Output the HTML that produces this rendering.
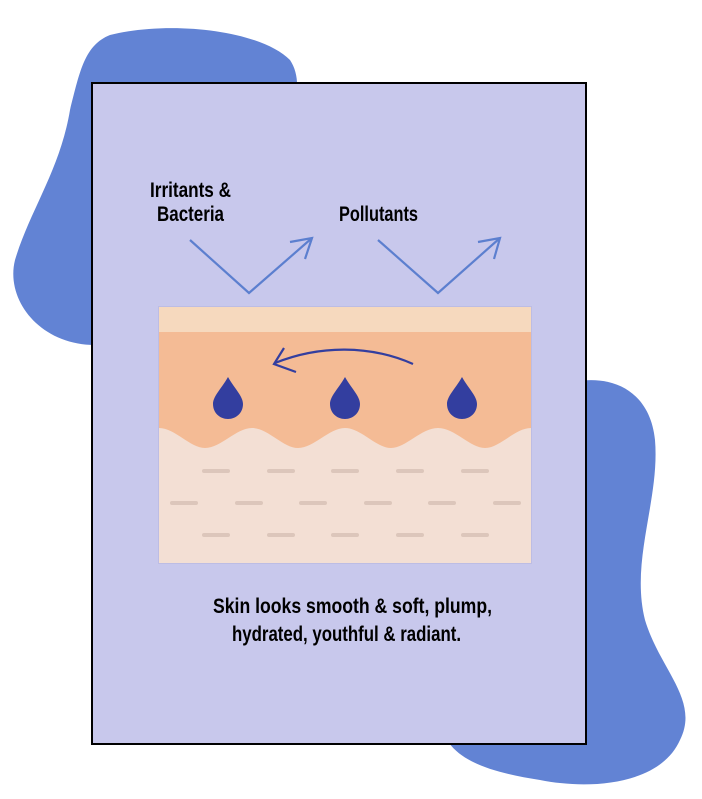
<!DOCTYPE html>
<html><head><style>
body{margin:0;background:#fff;width:702px;height:799px;overflow:hidden}
svg{display:block}
text{font-family:"Liberation Sans Narrow","Liberation Sans",sans-serif;font-weight:bold;fill:#000}
</style></head><body>
<svg width="702" height="799" viewBox="0 0 702 799">
<path d="M110,35 C170,20 260,30 290,60 C310,90 285,140 250,200 C220,260 180,340 95,345 C40,345 5,300 15,260 C30,210 60,170 70,110 C80,70 85,45 110,35 Z" fill="#6283d4"/>
<path d="M560,385 C610,370 650,390 655,440 C660,500 630,560 645,620 C660,670 700,700 680,740 C660,785 590,790 540,780 C490,772 445,760 440,720 C430,660 470,610 480,540 C490,460 510,400 560,385 Z" fill="#6283d4"/>
<rect x="92" y="83" width="494" height="661" fill="#c8c8ec" stroke="#000" stroke-width="2"/>
<text x="150" y="197" font-size="21" textLength="81" lengthAdjust="spacingAndGlyphs">Irritants &amp;</text>
<text x="157" y="221" font-size="21" textLength="67" lengthAdjust="spacingAndGlyphs">Bacteria</text>
<text x="339" y="221" font-size="21" textLength="79" lengthAdjust="spacingAndGlyphs">Pollutants</text>
<g fill="none" stroke="#5c7fcf" stroke-width="2.2">
<polyline points="190,240 249,293 312,238"/><polyline points="290,242 312,238 305,259"/>
<polyline points="378,240 438,293 500,238"/><polyline points="478,242 500,238 494,259"/>
</g>
<rect x="158" y="306" width="374" height="258" fill="#bdbde4"/>
<rect x="159" y="307" width="372" height="256" fill="#f3dfd4"/>
<rect x="159" y="307" width="372" height="26" fill="#f6d9be"/>
<path d="M159,332 H531 V428 C515,428 500,448 485,448 C470,448 455,428 438,428 C421,428 406,448 391,448 C376,448 361,428 345,428 C329,428 314,448 298,448 C283,448 268,428 252,428 C236,428 221,448 205,448 C190,448 175,428 159,428 Z" fill="#f4bb95"/>
<g fill="none" stroke="#333e9f" stroke-width="2.2">
<path d="M413,364 C370,345 320,345 275,363"/><polyline points="284,348 274,364 296,372"/>
</g>
<g fill="#333e9f">
<path d="M228,377 C222,388 213,396 213,404 C213,413 220,419 228,419 C236,419 243,413 243,404 C243,396 234,388 228,377 Z"/>
<path d="M345,377 C339,388 330,396 330,404 C330,413 337,419 345,419 C353,419 360,413 360,404 C360,396 351,388 345,377 Z"/>
<path d="M462,377 C456,388 447,396 447,404 C447,413 454,419 462,419 C470,419 477,413 477,404 C477,396 468,388 462,377 Z"/>
</g>
<g stroke="#dcc6bb" stroke-width="4" stroke-linecap="round">
<path d="M204,471h24M269,471h24M333,471h24M398,471h24M463,471h24"/>
<path d="M172,503h24M237,503h24M301,503h24M366,503h24M430,503h24M495,503h24"/>
<path d="M204,535h24M269,535h24M333,535h24M398,535h24M463,535h24"/>
</g>
<text x="213" y="613" font-size="21" textLength="279" lengthAdjust="spacingAndGlyphs">Skin looks smooth &amp; soft, plump,</text>
<text x="232" y="641" font-size="21" textLength="229" lengthAdjust="spacingAndGlyphs">hydrated, youthful &amp; radiant.</text>
</svg>
</body></html>
